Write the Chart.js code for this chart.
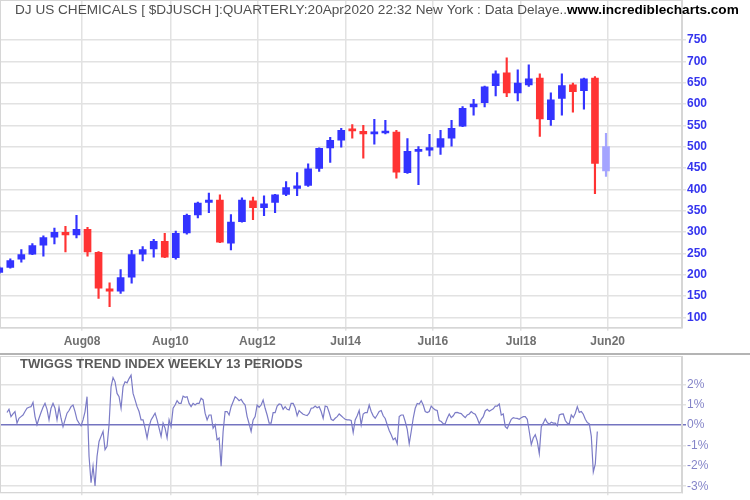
<!DOCTYPE html>
<html>
<head>
<meta charset="utf-8">
<script src="https://cdn.jsdelivr.net/npm/chart.js@4.4.1/dist/chart.umd.min.js"></script>
<style>
  body { margin: 0; background: #fff; }
  #wrap { position: relative; width: 750px; height: 500px; overflow: hidden; }
  #priceChart { position: absolute; left: 0; top: 0; }
  #trendChart { position: absolute; left: 0; top: 355px; }
  #sep { position: absolute; left: 0; top: 353px; width: 750px; height: 2px; background: #b4b4b4; }
</style>
</head>
<body>
<div id="wrap">
  <canvas id="priceChart" width="750" height="353"></canvas>
  <div id="sep"></div>
  <canvas id="trendChart" width="750" height="145"></canvas>
</div>
<script>
// Quarterly candles, Q3 2006 .. Q2 2020 (last one is the unfinished quarter)
const open  = [205,217,236,248,269,288,299,293,306,252,167,161,194,248,260,278,240,298,340,369,375,274,324,373,357,369,388,402,409,449,497,515,539,536,530,532,534,439,489,492,499,520,548,593,603,643,673,626,645,661,563,613,645,631,661,443];
const high  = [218,237,259,273,291,309,313,339,311,254,181,212,257,266,283,297,302,342,370,391,387,341,380,382,385,388,418,439,460,497,522,543,552,550,564,562,538,519,500,529,538,562,594,611,642,678,708,680,692,671,626,671,649,661,664,531];
const low   = [203,215,229,247,243,272,253,286,243,144,125,156,180,232,241,240,236,295,333,345,275,258,323,329,338,345,385,385,407,442,463,499,520,473,506,530,426,437,411,478,482,501,547,574,593,619,617,607,641,524,550,574,581,588,390,430];
const close = [216,233,247,268,287,299,293,306,253,168,161,193,247,259,278,241,297,339,368,375,276,323,375,357,366,387,404,408,448,496,515,538,537,530,534,534,440,489,492,498,519,543,590,600,640,671,626,649,659,565,610,643,629,659,461,500];

// x axis labels (position in quarters from the first candle)
const tickLabels = ["Aug08","Aug10","Aug12","Jul14","Jul16","Jul18","Jun20"];
const tickPos    = [7.5, 15.5, 23.4, 31.4, 39.3, 47.3, 55.15];
const priceTicks = [100,150,200,250,300,350,400,450,500,550,600,650,700,750];
const trendTicks = [-3,-2,-1,0,1,2];

// Twiggs trend index (%), read about every 2.4 weeks
const trendStart = 0.7;
const trendStep = 0.1814;
const trend = [
  0.62,0.78,0.42,0.55,0.67,0.10,0.34,0.42,0.50,0.67,
  0.83,0.88,0.91,1.12,0.42,0.02,0.34,0.62,0.88,1.07,
  0.78,0.26,0.83,1.07,0.83,0.26,0.88,0.34,-0.07,0.26,
  0.59,0.72,0.91,0.99,0.67,0.26,0.10,-0.03,0.26,0.67,
  1.40,-1.53,-2.83,-2.02,-2.99,-1.53,-0.80,-0.55,-0.31,-1.20,
  -1.04,0.02,1.89,2.34,2.13,1.56,1.40,0.83,1.89,2.13,
  2.08,2.29,2.46,1.56,1.24,0.91,0.67,0.26,0.26,-0.15,
  -0.63,-0.07,0.26,0.42,0.59,0.26,-0.15,-0.55,0.10,-0.15,
  -0.63,0.26,
  -0.07,0.83,0.99,1.20,1.07,1.07,1.43,1.37,1.40,1.07,
  0.91,1.07,0.99,1.07,1.07,1.32,1.24,0.59,0.26,0.50,
  0.50,-0.15,0.02,-0.72,-0.63,-2.02,-0.31,0.67,0.67,0.50,
  0.91,1.15,1.40,1.32,1.20,1.27,1.11,0.99,0.42,0.07,
  -0.31,0.26,0.42,0.99,0.88,0.99,1.24,0.83,0.50,0.10,
  0.10,0.62,0.62,0.94,1.04,1.02,0.78,0.91,0.78,0.75,
  1.07,1.07,0.86,0.46,0.72,0.62,0.54,0.50,0.47,0.59,
  0.83,0.85,0.94,0.86,0.91,0.67,0.34,0.94,0.91,0.62,
  0.29,0.23,
  0.34,0.42,0.55,0.46,0.37,0.29,0.26,0.26,0.23,-0.36,
  0.26,0.46,0.72,0.02,0.55,0.62,0.62,0.99,0.67,0.46,
  0.34,0.50,0.67,0.72,0.46,0.33,0.02,-0.26,-0.47,-0.72,
  -0.63,-0.91,0.42,0.50,0.50,0.18,-0.20,-0.91,-0.31,0.34,
  0.83,1.07,1.04,1.20,0.99,0.67,0.62,0.67,0.94,0.83,
  0.75,0.72,0.23,0.18,0.07,0.07,0.34,0.55,0.37,0.46,
  0.62,0.63,0.59,0.57,0.46,0.37,0.50,0.55,0.67,0.59,
  0.54,0.34,0.07,0.29,0.42,0.70,0.78,0.68,0.75,0.80,
  0.94,0.94,
  1.04,0.50,0.55,-0.07,-0.16,0.07,0.29,0.37,0.34,0.33,
  0.29,0.37,0.42,0.42,0.29,-0.31,-0.95,-0.63,-0.47,-0.80,
  -1.40,-0.07,0.10,0.31,0.13,0.05,0.15,0.10,0.10,-0.03,
  0.50,0.54,0.55,0.23,0.10,0.07,0.50,0.37,0.59,0.91,
  0.63,0.67,0.54,0.29,0.13,0.07,-0.55,-2.30,-1.90,-0.31
];

const FONT = "'Liberation Sans', Arial, sans-serif";
const GRID = '#e2e2e2';
const xMin = 0.066, xMax = 61.89;

function candleColor(i) {
  if (i === open.length - 1) return '#a4a4ff';
  return close[i] >= open[i] ? '#3333ff' : '#ff3333';
}

const idx = open.map((_, i) => i);

// fixed axis sizes so the plot area lines up with the reference
function rightAxisFit(scale) {
  scale.width = 68;
  scale.paddingTop = 0;
  scale.paddingBottom = 0;
}

function xAxis(height, showLabels) {
  return {
    type: 'linear',
    min: xMin,
    max: xMax,
    offset: false,
    afterBuildTicks: s => { s.ticks = tickPos.map(v => ({ value: v })); },
    afterFit: s => { s.height = height; s.paddingLeft = 0; s.paddingRight = 0; },
    grid: { color: GRID, lineWidth: 1.5, tickLength: 3, offset: false },
    border: { display: true, color: '#d6d6d6', width: 1 },
    ticks: {
      display: showLabels,
      autoSkip: false,
      maxRotation: 0,
      padding: 4,
      color: '#707070',
      font: { family: FONT, size: 12, weight: 'bold' },
      callback: (v, i) => tickLabels[i]
    }
  };
}

const frame = {
  id: 'frame',
  beforeDatasetsDraw(chart) {
    const a = chart.chartArea, ctx = chart.ctx;
    ctx.save();
    ctx.strokeStyle = '#d6d6d6';
    ctx.lineWidth = 1;
    ctx.strokeRect(a.left + 0.5, a.top + 0.5, a.right - a.left - 1, a.bottom - a.top);
    ctx.restore();
  }
};

const priceTitle = {
  id: 'priceTitle',
  afterDraw(chart) {
    const ctx = chart.ctx;
    ctx.save();
    ctx.textBaseline = 'middle';
    ctx.font = '13.6px ' + FONT;
    ctx.fillStyle = '#505050';
    const t1 = 'DJ US CHEMICALS [ $DJUSCH ]:QUARTERLY:20Apr2020 22:32 New York : Data Delaye..';
    ctx.fillText(t1, 15, 10);
    const w = ctx.measureText(t1).width;
    ctx.font = 'bold 13.6px ' + FONT;
    ctx.fillStyle = '#000';
    ctx.fillText('www.incrediblecharts.com', 15 + w, 10);
    ctx.restore();
  }
};

const trendTitle = {
  id: 'trendTitle',
  afterDraw(chart) {
    const ctx = chart.ctx;
    ctx.save();
    ctx.textBaseline = 'middle';
    ctx.font = 'bold 13px ' + FONT;
    ctx.fillStyle = '#5a5a5a';
    ctx.fillText('TWIGGS TREND INDEX WEEKLY 13 PERIODS', 20, 9);
    ctx.restore();
  }
};

new Chart(document.getElementById('priceChart'), {
  type: 'bar',
  data: {
    datasets: [
      {
        data: idx.map(i => ({ x: i, y: [open[i], close[i]] })),
        backgroundColor: idx.map(candleColor),
        barThickness: 7,
        minBarLength: 2,
        grouped: false
      },
      {
        data: idx.map(i => ({ x: i, y: [low[i], high[i]] })),
        backgroundColor: idx.map(candleColor),
        barThickness: 1.5,
        grouped: false
      }
    ]
  },
  options: {
    responsive: false,
    animation: false,
    events: [],
    layout: { padding: 0 },
    plugins: { legend: { display: false }, tooltip: { enabled: false } },
    scales: {
      x: xAxis(25.3, true),
      y: {
        position: 'right',
        min: 75.6,
        max: 843.8,
        afterBuildTicks: s => { s.ticks = priceTicks.map(v => ({ value: v })); },
        afterFit: rightAxisFit,
        grid: { color: GRID, lineWidth: 1.5, tickLength: 4 },
        border: { display: true, color: '#d6d6d6', width: 1 },
        ticks: {
          padding: 1,
          color: '#3434ee',
          font: { family: FONT, size: 12, weight: 'bold' }
        }
      }
    }
  },
  plugins: [frame, priceTitle]
});

new Chart(document.getElementById('trendChart'), {
  type: 'line',
  data: {
    datasets: [{
      data: trend.map((v, i) => ({ x: trendStart + i * trendStep, y: v })),
      borderColor: '#7b7bc6',
      borderWidth: 1.2,
      pointRadius: 0,
      tension: 0,
      fill: false
    }]
  },
  options: {
    responsive: false,
    animation: false,
    events: [],
    layout: { padding: { top: 1 } },
    plugins: { legend: { display: false }, tooltip: { enabled: false } },
    scales: {
      x: xAxis(7.7, false),
      y: {
        position: 'right',
        min: -3.3,
        max: 3.4,
        afterBuildTicks: s => { s.ticks = trendTicks.map(v => ({ value: v })); },
        afterFit: rightAxisFit,
        grid: {
          color: c => (c.tick && c.tick.value === 0) ? '#7474c0' : GRID,
          lineWidth: 1.5,
          tickLength: 4
        },
        border: { display: true, color: '#d6d6d6', width: 1 },
        ticks: {
          padding: 1,
          color: '#8484c8',
          font: { family: FONT, size: 12 },
          callback: v => v + '%'
        }
      }
    }
  },
  plugins: [frame, trendTitle]
});
</script>
</body>
</html>
